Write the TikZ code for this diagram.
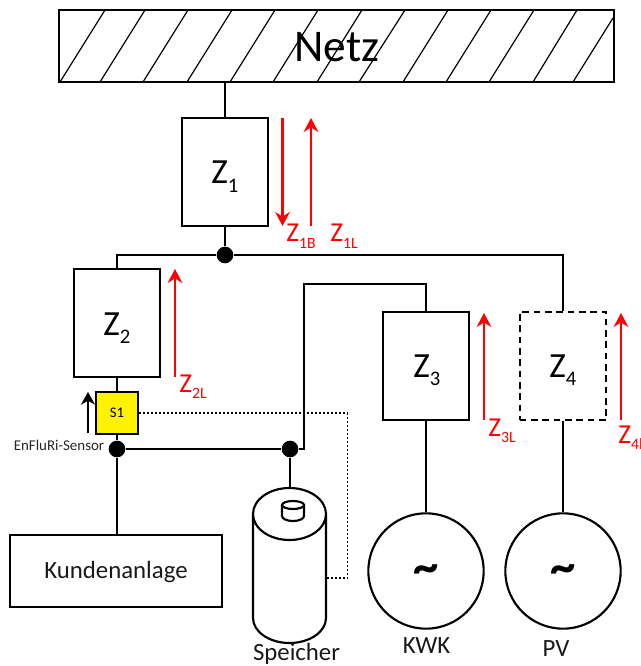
\documentclass[tikz,border=0pt]{standalone}
\usepackage{fontspec}
\setmainfont{Carlito}
\usetikzlibrary{arrows.meta}
\newcommand{\zbig}[1]{Z\raisebox{-6.7pt}{\fontsize{15.5pt}{16pt}\selectfont #1}}
\newcommand{\zred}[1]{Z\raisebox{-5pt}{\fontsize{11.8pt}{12pt}\selectfont #1}}
\tikzset{
  wire/.style={draw=black,line width=1.6pt},
  zbox/.style={draw=black,line width=1.6pt,inner sep=0pt,minimum width=65pt,minimum height=81pt},
  junction/.style={circle,fill=black,draw=none,inner sep=0pt,minimum size=12.5pt},
  redarrow/.style={draw=red,line width=2.2pt,-{Stealth[length=10.5pt,width=11pt,inset=3.5pt]}},
  blackarrow/.style={draw=black,line width=2pt,-{Stealth[length=9.5pt,width=10.5pt,inset=3pt]}},
  zlabel/.style={font=\fontsize{26.5pt}{27pt}\selectfont,text=black,inner sep=0pt,anchor=base west},
  rlabel/.style={font=\fontsize{20.5pt}{21pt}\selectfont,text=red,inner sep=0pt,anchor=base west},
  tlabel/.style={font=\fontsize{18.6pt}{19pt}\selectfont,text=black!90,inner sep=0pt,anchor=base},
  source/.style={circle,draw=black,line width=1.6pt,inner sep=0pt,minimum size=86.5pt},
  tildelabel/.style={font=\bfseries\fontsize{38pt}{38pt}\selectfont,inner sep=0pt,anchor=center},
}
\begin{document}
\begin{tikzpicture}[x=0.75pt,y=-0.75pt]
\useasboundingbox (0,0) rectangle (641,666);
% Netz
\draw[line width=0.9pt] (60,82) -- (105,10) (100,82) -- (145,10) (143,82) -- (188,10) (187,82) -- (232,10) (230,82) -- (275,10) (273,82) -- (318,10) (317,82) -- (362,10) (359,82) -- (405,10) (403,82) -- (448,10) (446,82) -- (491,10) (489,82) -- (534,10) (533,82) -- (577,10) (573,82) -- (613,18);
\node[draw=black,line width=1.3pt,inner sep=0pt,minimum width=416pt,minimum height=54pt] (netzbox) at (336.5,46) {};
\node[font=\fontsize{34pt}{35pt}\selectfont,inner sep=0pt,anchor=base] (netz) at (337,62) {Netz};
% junctions
\node[junction] (j1) at (225,255) {};
\node[junction] (j2) at (117,449) {};
\node[junction] (j3) at (290,449) {};
% boxes
\node[zbox] (z1) at (225,172) {};
\node[zbox] (z2) at (117,323) {};
\node[zbox] (z3) at (426,366) {};
\node[zbox,line width=1.3pt,dash pattern=on 5pt off 3.5pt] (z4) at (563,366) {};
\node[draw=black,line width=1.6pt,inner sep=0pt,fill=yellow,minimum width=32pt,minimum height=32pt,font=\fontsize{11pt}{11pt}\selectfont] (s1) at (117,413) {S1};
\node[draw=black,line width=1.6pt,inner sep=0pt,minimum width=159pt,minimum height=54.5pt] (kunden) at (116,571) {};
\node[tlabel] (kundentext) at (116,578) {Kundenanlage};
\node[source] (kwk) at (426,571) {};
\node[source] (pv) at (563,571) {};
\node[tildelabel] (t1) at (426,574) {\char"7E};
\node[tildelabel] (t2) at (563,574) {\char"7E};
% box labels
\node[zlabel] (lz1) at (211,184) {\zbig{1}};
\node[zlabel] (lz2) at (103,335) {\zbig{2}};
\node[zlabel] (lz3) at (413,377) {\zbig{3}};
\node[zlabel] (lz4) at (549,377) {\zbig{4}};
% wires
\draw[wire] (netzbox.south -| z1.north) -- (z1.north);
\draw[wire] (z1.south) -- (j1);
\coordinate (a) at (117,255);
\coordinate (b) at (563,255);
\draw[wire] (z2.north) -- (a) -- (j1) -- (b) -- (z4.north);
\draw[wire] (z2.south) -- (s1.north);
\draw[wire] (s1.south) -- (j2);
\draw[wire] (j2) -- (j3);
\coordinate (c) at (304,449);
\coordinate (d) at (304,284);
\coordinate (e) at (426,284);
\draw[wire] (j3) -- (c) -- (d) -- (e) -- (z3.north);
\draw[wire] (j2) -- (kunden.north -| j2);
\draw[wire] (z3.south) -- (kwk.north);
\draw[wire] (z4.south) -- (pv.north);
% Speicher
\coordinate (cytop) at (290,488);
\draw[wire] (j3) -- (cytop);
\draw[line width=1.6pt] (253,514) arc[start angle=180,end angle=0,x radius=36.5,y radius=26] -- (326,618) arc[start angle=0,end angle=180,x radius=36.5,y radius=25] -- cycle;
\draw[line width=1.6pt] (253,514) arc[start angle=180,end angle=360,x radius=36.5,y radius=26];
\draw[line width=1.6pt] (282,505) -- (282,516) arc[start angle=180,end angle=0,x radius=11,y radius=5] -- (304,505);
\draw[line width=1.6pt] (293,505) ellipse[x radius=11,y radius=4];
% dotted
\coordinate (f) at (347.5,413);
\coordinate (g) at (347.5,578);
\coordinate (h) at (327,578);
\draw[line width=1.3pt,dash pattern=on 1.5pt off 1.5pt] (s1.east) -- (f) -- (g) -- (h);
% arrows
\coordinate (r1a) at (282.5,118); \coordinate (r1b) at (282.5,226);
\draw[redarrow] (r1a) -- (r1b);
\coordinate (r2a) at (311,226); \coordinate (r2b) at (311,118);
\draw[redarrow] (r2a) -- (r2b);
\coordinate (r3a) at (175,377); \coordinate (r3b) at (175,269);
\draw[redarrow] (r3a) -- (r3b);
\coordinate (r4a) at (484,420); \coordinate (r4b) at (484,313);
\draw[redarrow] (r4a) -- (r4b);
\coordinate (r5a) at (621,420); \coordinate (r5b) at (621,313);
\draw[redarrow] (r5a) -- (r5b);
\coordinate (ba) at (88,433); \coordinate (bb) at (88,392);
\draw[blackarrow] (ba) -- (bb);
% red labels
\node[rlabel] (l1b) at (286,242) {\zred{1B}};
\node[rlabel] (l1l) at (330,242) {\zred{1L}};
\node[rlabel] (l2l) at (179,392) {\zred{2L}};
\node[rlabel] (l3l) at (488,436) {\zred{3L}};
\node[rlabel] (l4l) at (618,443) {\zred{4l}};
% text labels
\node[font=\fontsize{11.2pt}{12pt}\selectfont,text=black!85,inner sep=0pt,anchor=base] (sensor) at (59,450) {EnFluRi-Sensor};
\node[tlabel] (speicher) at (296.5,660) {Speicher};
\node[tlabel] (kwktext) at (426.5,653) {KWK};
\node[tlabel] (pvtext) at (556,656) {PV};
\end{tikzpicture}
\end{document}
